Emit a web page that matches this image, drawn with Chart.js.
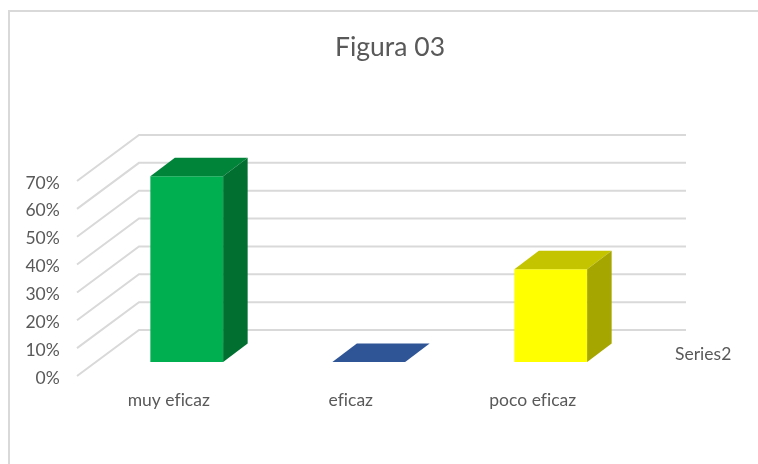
<!DOCTYPE html>
<html>
<head>
<meta charset="utf-8">
<title>Figura 03</title>
<script src="https://cdn.jsdelivr.net/npm/chart.js@4"></script>
<style>
    html, body { margin: 0; padding: 0; background: #ffffff; }
    #frame {
        position: absolute; left: 8px; top: 10px; right: 0; bottom: 0;
        border-left: 2px solid #d9d9d9; border-top: 2px solid #d9d9d9;
    }
    #chart { position: absolute; left: 0; top: 0; }
</style>
</head>
<body>
<div id="frame"></div>
<canvas id="chart" width="758" height="464"></canvas>
<script>
/* =========================
   DATA
========================= */
const chartTitle = "Figura 03";
const seriesName = "Series2";
const categories = ["muy eficaz", "eficaz", "poco eficaz"];
const seriesValues = [66.7, 0, 33.3];
const yTicksMax = 70;
const yTicksStep = 10;

const frontColors = ["#00b050", "#2f5597", "#ffff00"];
const topColors = ["#008439", "#2f5597", "#c4c400"];
const sideColors = ["#006f30", "#2f5597", "#a6a600"];

const textColor = "#595959";
const gridColor = "#d9d9d9";
const fontName = "Lato, 'Open Sans', sans-serif";

/* =========================
   FAKE 3D WALLS
========================= */
const wallsPlugin = {
    id: "walls",
    beforeDatasetsDraw(chart) {
        const ctx = chart.ctx;
        const y = chart.scales.y;
        ctx.save();
        ctx.strokeStyle = gridColor;
        ctx.lineWidth = 2;
        y.ticks.forEach(t => {
            const p = y.getPixelForValue(t.value);
            ctx.beginPath();
            ctx.moveTo(77, p + 14);
            ctx.lineTo(139, p - 32);
            ctx.lineTo(686, p - 32);
            ctx.stroke();
        });
        ctx.restore();
    }
};

/* =========================
   FAKE 3D BAR SIDES
========================= */
const depthX = 24.5;
const depthY = 18.5;

const barSidesPlugin = {
    id: "barSides",
    afterDatasetsDraw(chart) {
        const ctx = chart.ctx;
        chart.getDatasetMeta(0).data.forEach((bar, i) => {
            const left = bar.x - bar.width / 2;
            const right = bar.x + bar.width / 2;

            ctx.fillStyle = topColors[i];
            ctx.beginPath();
            ctx.moveTo(left, bar.y);
            ctx.lineTo(left + depthX, bar.y - depthY);
            ctx.lineTo(right + depthX, bar.y - depthY);
            ctx.lineTo(right, bar.y);
            ctx.closePath();
            ctx.fill();

            if (bar.base - bar.y > 0.5) {
                ctx.fillStyle = sideColors[i];
                ctx.beginPath();
                ctx.moveTo(right, bar.y);
                ctx.lineTo(right + depthX, bar.y - depthY);
                ctx.lineTo(right + depthX, bar.base - depthY);
                ctx.lineTo(right, bar.base);
                ctx.closePath();
                ctx.fill();
            }
        });
    }
};

/* =========================
   TITLE SHIFT + SERIES LABEL
========================= */
const extrasPlugin = {
    id: "extras",
    afterLayout(chart) {
        // title block stops at the chart area padding, so recentre it by hand
        chart.titleBlock.left = 0;
        chart.titleBlock.right = 780;
    },
    beforeDraw(chart) {
        // no "fi" ligature in the reference
        chart.ctx.letterSpacing = "0.01px";
    },
    afterDraw(chart) {
        const ctx = chart.ctx;
        ctx.save();
        ctx.fillStyle = textColor;
        ctx.font = "17.5px " + fontName;
        ctx.textAlign = "left";
        ctx.textBaseline = "middle";
        ctx.fillText(seriesName, 675, chart.scales.y.getPixelForValue(0) - 8);
        ctx.restore();
    }
};

/* =========================
   CHART
========================= */
new Chart(document.getElementById("chart"), {
    type: "bar",
    data: {
        labels: categories,
        datasets: [{
            label: seriesName,
            data: seriesValues,
            backgroundColor: frontColors,
            borderWidth: 0,
            barPercentage: 0.4,
            categoryPercentage: 1
        }]
    },
    options: {
        responsive: false,
        animation: false,
        layout: { padding: { left: 0, right: 116.25, top: 0, bottom: 0 } },
        plugins: {
            legend: { display: false },
            tooltip: { enabled: false },
            title: {
                display: true,
                text: chartTitle,
                color: textColor,
                font: { family: fontName, size: 26.5, weight: "normal", lineHeight: 1.2 },
                padding: { top: 32, bottom: 103.2 }
            }
        },
        scales: {
            x: {
                grid: { display: false, drawTicks: false },
                border: { display: false },
                ticks: {
                    color: textColor,
                    font: { family: fontName, size: 17.5 },
                    padding: 28,
                    labelOffset: -18,
                    maxRotation: 0
                },
                afterFit(scale) { scale.height = 102; }
            },
            y: {
                min: 0,
                max: yTicksMax,
                grid: { display: false, drawTicks: false },
                border: { display: false },
                ticks: {
                    stepSize: yTicksStep,
                    color: textColor,
                    font: { family: fontName, size: 17.5 },
                    padding: 36,
                    labelOffset: 16,
                    callback: v => v + "%"
                },
                afterFit(scale) { scale.width = 95.75; }
            }
        }
    },
    plugins: [wallsPlugin, barSidesPlugin, extrasPlugin]
});
</script>
</body>
</html>
